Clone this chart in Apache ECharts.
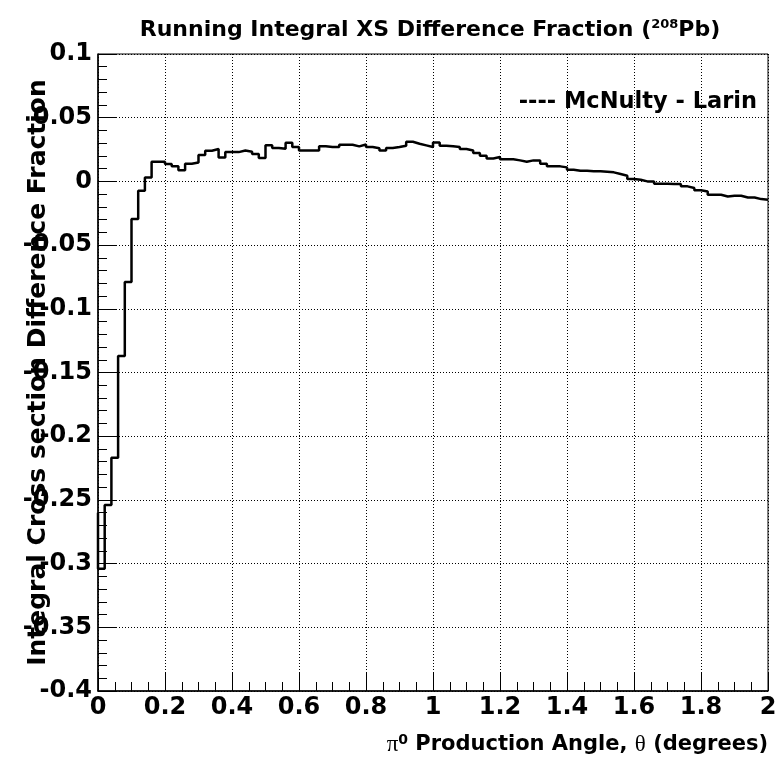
<!DOCTYPE html>
<html>
<head>
<meta charset="utf-8">
<title>Running Integral XS Difference Fraction</title>
<script src="https://cdn.jsdelivr.net/npm/echarts@6/dist/echarts.min.js"></script>
<style>
  html, body { margin: 0; padding: 0; background: #ffffff; }
  #chart { width: 780px; height: 760px; }
</style>
</head>
<body>
<div id="chart"></div>
<script>
// Histogram binning: 100 bins of 0.02 degrees from 0 to 2
const binLow = 0;
const binWidth = 0.02;

// Running integral cross-section difference fraction (McNulty - Larin), one value per bin
const diffFraction = [
  -0.304, -0.254, -0.217, -0.137, -0.079, -0.0295, -0.0073, 0.0031, 0.0155, 0.0155,
  0.0136, 0.0118, 0.0087, 0.0139, 0.0149, 0.0207, 0.0241, 0.0254, 0.0188, 0.0230,
  0.0230, 0.0243, 0.0233, 0.0215, 0.0183, 0.0283, 0.0262, 0.0256, 0.0303, 0.0270,
  0.0243, 0.0243, 0.0243, 0.0275, 0.0270, 0.0270, 0.0288, 0.0288, 0.0275, 0.0290,
  0.0270, 0.0260, 0.0243, 0.0262, 0.0270, 0.0280, 0.0311, 0.0296, 0.0283, 0.0270,
  0.0306, 0.0280, 0.0275, 0.0270, 0.0254, 0.0243, 0.0223, 0.0202, 0.0180, 0.0191,
  0.0173, 0.0173, 0.0165, 0.0155, 0.0165, 0.0165, 0.0139, 0.0118, 0.0118, 0.0110,
  0.0092, 0.0084, 0.0084, 0.0079, 0.0079, 0.0076, 0.0071, 0.0058, 0.0045, 0.0018,
  0.0013, 0.0000, 0.0000, -0.0018, -0.0018, -0.0020, -0.0020, -0.0039, -0.0052, -0.0070,
  -0.0079, -0.0105, -0.0105, -0.0118, -0.0113, -0.0113, -0.0126, -0.0126, -0.0139, -0.0144
];
// Level where the outline enters the first bin at its left edge
const firstEdgeStart = -0.26;

// Axis ranges and tick spacing
const xRange = [0, 2];
const xMajor = 0.2;
const yRange = [-0.4, 0.1];
const yMajor = 0.05;

// Texts
const chartTitle = '{t|Running Integral XS Difference Fraction (}{sup|208}{t|Pb)}';
const yTitle = 'Integral Cross section Difference Fraction';
const xTitle = '{g|\u03c0}{sup|0}{t| Production Angle, }{g|\u03b8}{t| (degrees)}';
const legendText = '---- McNulty - Larin';

// Step outline points: left edge of each bin, plus the right edge of the last bin
const outline = [[binLow, firstEdgeStart]];
diffFraction.forEach((v, i) => outline.push([+(binLow + i * binWidth).toFixed(4), v]));
outline.push([+(binLow + diffFraction.length * binWidth).toFixed(4), diffFraction[diffFraction.length - 1]]);

const FONT = "'DejaVu Sans', 'Liberation Sans', Arial, sans-serif";
const SERIF = "'Liberation Serif', 'DejaVu Serif', serif";

const chart = echarts.init(document.getElementById('chart'), null, { renderer: 'canvas' });

const fmt = v => String(Math.round(v * 1000) / 1000);

chart.setOption({
  animation: false,
  backgroundColor: '#ffffff',
  grid: {
    left: 98, right: 12, top: 54, bottom: 69,
    containLabel: false,
    outerBoundsMode: 'none',
    show: true, borderColor: '#000', borderWidth: 1, backgroundColor: 'transparent'
  },
  xAxis: {
    type: 'value',
    min: xRange[0], max: xRange[1], interval: xMajor,
    axisLine: { show: true, onZero: false, lineStyle: { color: '#000', width: 1.5 } },
    axisTick: { show: true, inside: true, length: 18, lineStyle: { color: '#000', width: 1 } },
    minorTick: { show: true, splitNumber: 4, length: 9, lineStyle: { color: '#000', width: 1 } },
    axisLabel: {
      color: '#000', fontFamily: FONT, fontWeight: 'bold', fontSize: 24, margin: 5,
      formatter: fmt, showMinLabel: true, showMaxLabel: true
    },
    splitLine: { show: true, lineStyle: { color: '#000', width: 1, type: [1, 2] } }
  },
  yAxis: {
    type: 'value',
    min: yRange[0], max: yRange[1], interval: yMajor,
    axisLine: { show: true, onZero: false, lineStyle: { color: '#000', width: 1.5 } },
    axisTick: { show: true, inside: true, length: 18, lineStyle: { color: '#000', width: 1 } },
    minorTick: { show: true, splitNumber: 5, length: 9, lineStyle: { color: '#000', width: 1 } },
    axisLabel: {
      color: '#000', fontFamily: FONT, fontWeight: 'bold', fontSize: 24, margin: 6,
      formatter: fmt, showMinLabel: true, showMaxLabel: true
    },
    splitLine: { show: true, lineStyle: { color: '#000', width: 1, type: [1, 2] } },
    name: yTitle,
    nameLocation: 'middle',
    nameRotate: 90,
    nameGap: 47,
    nameMoveOverlap: false,
    nameTextStyle: { color: '#000', fontFamily: FONT, fontWeight: 'bold', fontSize: 25 }
  },
  series: [{
    type: 'line',
    step: 'end',
    data: outline,
    showSymbol: false,
    symbol: 'none',
    lineStyle: { color: '#000', width: 2.5 },
    z: 5
  }],
  graphic: [
    {
      type: 'text', x: 430, y: 30, z: 10,
      style: {
        text: chartTitle,
        align: 'center', verticalAlign: 'middle',
        rich: {
          t: { fontFamily: FONT, fontWeight: 'bold', fontSize: 22, fill: '#000' },
          sup: { fontFamily: FONT, fontWeight: 'bold', fontSize: 13, fill: '#000', padding: [0, 0, 10, 0] }
        }
      }
    },
    {
      type: 'text', x: 757, y: 102, z: 10,
      style: {
        text: legendText, align: 'right', verticalAlign: 'middle',
        fontFamily: FONT, fontWeight: 'bold', fontSize: 22.5, fill: '#000'
      }
    },
    {
      type: 'text', x: 768, y: 745, z: 10,
      style: {
        text: xTitle,
        align: 'right', verticalAlign: 'middle',
        rich: {
          t: { fontFamily: FONT, fontWeight: 'bold', fontSize: 21, fill: '#000' },
          g: { fontFamily: SERIF, fontSize: 23, fill: '#000' },
          sup: { fontFamily: FONT, fontWeight: 'bold', fontSize: 14, fill: '#000', padding: [0, 0, 10, 0] }
        }
      }
    }
  ]
});
</script>
</body>
</html>
